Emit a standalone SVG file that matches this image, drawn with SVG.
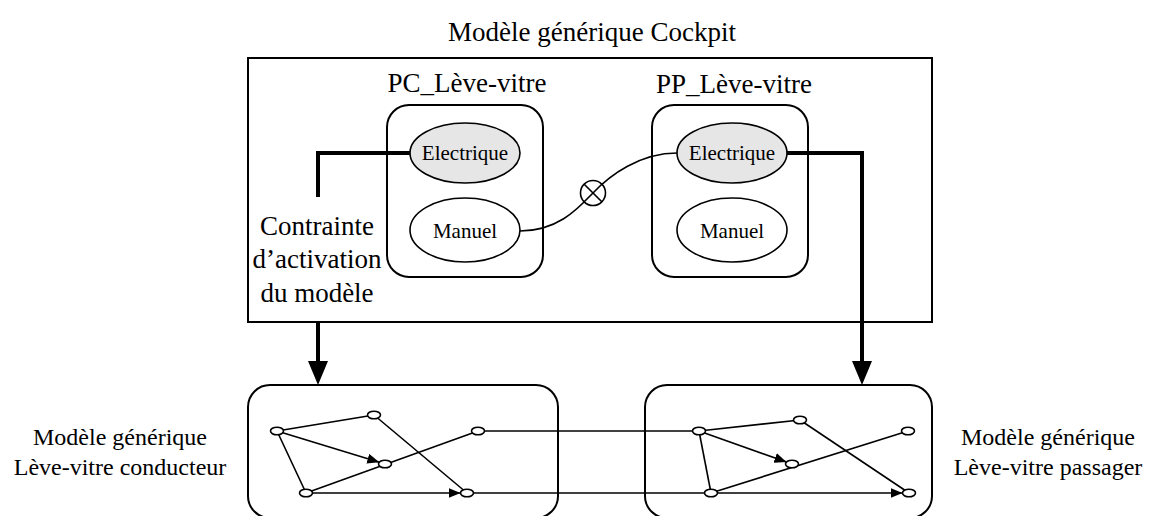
<svg xmlns="http://www.w3.org/2000/svg" width="1152" height="516" viewBox="0 0 1152 516">
<style>
text{font-family:"Liberation Serif","Times New Roman",serif;fill:#000}
.lbl{font-size:27px}
.side{font-size:24px;text-anchor:middle}
.feat{font-size:21px;text-anchor:middle}
.box{fill:none;stroke:#000;stroke-width:2}
.ell{fill:#fff;stroke:#000;stroke-width:1.6}
.ell.on{fill:#e6e6e6}
.nd{fill:#fff;stroke:#000;stroke-width:1.6}
.edge{fill:none;stroke:#000;stroke-width:1.6}
.thick{fill:none;stroke:#000;stroke-width:4}
</style>
<defs>
<marker id="sa" markerUnits="userSpaceOnUse" markerWidth="12" markerHeight="10" refX="12" refY="5" orient="auto"><path d="M0,0 L12,5 L0,10 z" fill="#000"/></marker>
<marker id="ba" markerUnits="userSpaceOnUse" markerWidth="24" markerHeight="20" refX="0" refY="10" orient="auto"><path d="M0,0 L24,10 L0,20 z" fill="#000"/></marker>
</defs>

<text class="lbl" x="592" y="41" text-anchor="middle">Modèle générique Cockpit</text>

<g id="cockpit">
<rect class="box" x="248" y="58" width="684" height="264"/>
</g>

<g id="pc">
<text class="lbl" x="467" y="92" text-anchor="middle">PC_Lève-vitre</text>
<rect class="box" x="387" y="105" width="156" height="172" rx="22" ry="22"/>
</g>
<g id="pc-electrique">
<ellipse class="ell on" cx="465" cy="153" rx="55" ry="30"/>
<text class="feat" x="465" y="160">Electrique</text>
</g>
<g id="pc-manuel">
<ellipse class="ell" cx="465" cy="230" rx="55" ry="32"/>
<text class="feat" x="465" y="238">Manuel</text>
</g>

<g id="pp">
<text class="lbl" x="734" y="93" text-anchor="middle">PP_Lève-vitre</text>
<rect class="box" x="652" y="105" width="156" height="172" rx="22" ry="22"/>
</g>
<g id="pp-electrique">
<ellipse class="ell on" cx="732" cy="153" rx="55" ry="30"/>
<text class="feat" x="732" y="160">Electrique</text>
</g>
<g id="pp-manuel">
<ellipse class="ell" cx="732" cy="230" rx="55" ry="32"/>
<text class="feat" x="732" y="238">Manuel</text>
</g>

<g id="contrainte">
<text class="lbl" x="317" y="235" text-anchor="middle">Contrainte</text>
<text class="lbl" x="317" y="268" text-anchor="middle">d’activation</text>
<text class="lbl" x="317" y="302" text-anchor="middle">du modèle</text>
</g>

<g id="conducteur">
<rect class="box" x="248" y="385" width="310" height="133" rx="22" ry="22"/>
<text class="side" x="120" y="445">Modèle générique</text>
<text class="side" x="120" y="475">Lève-vitre conducteur</text>
</g>
<g id="passager">
<rect class="box" x="645" y="385" width="287" height="133" rx="22" ry="22"/>
<text class="side" x="1048" y="445">Modèle générique</text>
<text class="side" x="1048" y="475">Lève-vitre passager</text>
</g>

<g id="connectors">
<path class="thick" d="M410,153 H318 V197"/>
<path class="thick" d="M318,322 V361" marker-end="url(#ba)"/>
<path class="thick" d="M787,153 H862 V361" marker-end="url(#ba)"/>
<path class="edge" d="M520,231 C556,231 576,211 593,193 C610,175 640,153 677,153"/>
<!-- left graph -->
<line class="edge" x1="277" y1="431" x2="374" y2="415"/>
<line class="edge" x1="277" y1="431" x2="379.3" y2="462.2" marker-end="url(#sa)"/>
<line class="edge" x1="277" y1="431" x2="306" y2="493"/>
<line class="edge" x1="374" y1="415" x2="467" y2="493"/>
<line class="edge" x1="306" y1="493" x2="478" y2="431"/>
<line class="edge" x1="306" y1="493" x2="460.5" y2="493" marker-end="url(#sa)"/>
<line class="edge" x1="478" y1="431" x2="699" y2="431"/>
<line class="edge" x1="467" y1="493" x2="711" y2="493"/>
<!-- right graph -->
<line class="edge" x1="699" y1="431" x2="800" y2="420"/>
<line class="edge" x1="699" y1="431" x2="786.5" y2="462" marker-end="url(#sa)"/>
<line class="edge" x1="699" y1="431" x2="711" y2="493"/>
<line class="edge" x1="800" y1="420" x2="909" y2="493"/>
<line class="edge" x1="711" y1="493" x2="908" y2="431"/>
<line class="edge" x1="711" y1="493" x2="902.5" y2="493" marker-end="url(#sa)"/>
</g>

<g id="xor">
<circle cx="593" cy="193" r="12.5" fill="#fff" stroke="#000" stroke-width="1.6"/>
<path d="M584.2,184.2 L601.8,201.8 M601.8,184.2 L584.2,201.8" stroke="#000" stroke-width="1.6"/>
</g>

<g id="left-nodes">
<ellipse class="nd" cx="277" cy="431" rx="6.5" ry="3.8"/>
<ellipse class="nd" cx="374" cy="415" rx="6.5" ry="3.8"/>
<ellipse class="nd" cx="385" cy="464" rx="6.5" ry="3.8"/>
<ellipse class="nd" cx="478" cy="431" rx="6.5" ry="3.8"/>
<ellipse class="nd" cx="306" cy="493" rx="6.5" ry="3.8"/>
<ellipse class="nd" cx="467" cy="493" rx="6.5" ry="3.8"/>
</g>
<g id="right-nodes">
<ellipse class="nd" cx="699" cy="431" rx="6.5" ry="3.8"/>
<ellipse class="nd" cx="800" cy="420" rx="6.5" ry="3.8"/>
<ellipse class="nd" cx="792" cy="464" rx="6.5" ry="3.8"/>
<ellipse class="nd" cx="908" cy="431" rx="6.5" ry="3.8"/>
<ellipse class="nd" cx="711" cy="493" rx="6.5" ry="3.8"/>
<ellipse class="nd" cx="909" cy="493" rx="6.5" ry="3.8"/>
</g>
</svg>
